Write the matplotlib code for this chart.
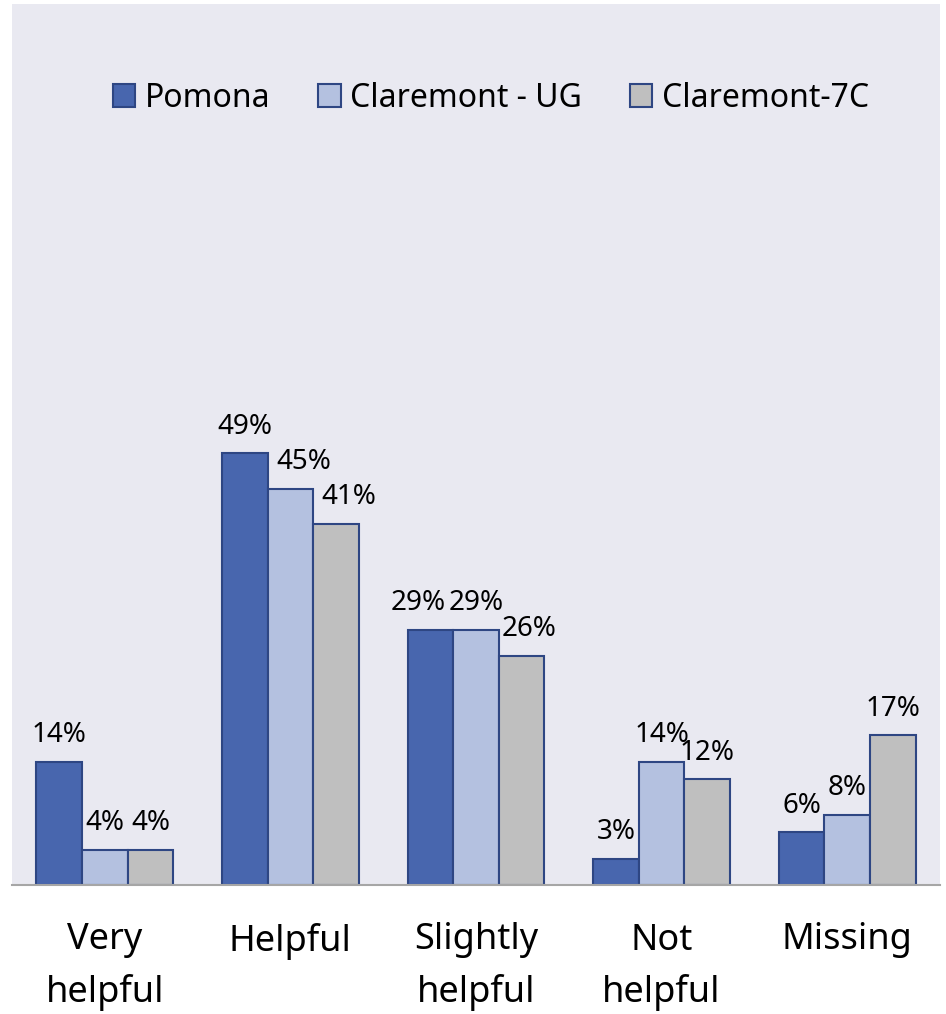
import matplotlib.pyplot as plt
import numpy as np

# Donnees (en %)
categories = ["Very\nhelpful", "Helpful", "Slightly\nhelpful", "Not\nhelpful", "Missing"]
series = ["Pomona", "Claremont - UG", "Claremont-7C"]
pomona = [14, 49, 29, 3, 6]
claremont_ug = [4, 45, 29, 14, 8]
claremont_7c = [4, 41, 26, 12, 17]

colors = ["#4866AE", "#B4C1E0", "#BFBFBF"]
edge = "#2E4683"
bg = "#E9E9F1"

# decalages horizontaux des etiquettes (points), comme Excel les a places
shift = {(1, 1): 10, (2, 1): 9, (0, 2): -9, (2, 2): 5}

plt.rcParams['font.family'] = ['Noto Sans', 'DejaVu Sans']

fig = plt.figure(figsize=(9.46, 10.14), dpi=100)
ax = fig.add_axes([12 / 946, 129 / 1014, 928 / 946, 881 / 1014])
ax.set_facecolor(bg)

x = np.arange(len(categories))
w = 0.246
for k, (vals, name) in enumerate(zip([pomona, claremont_ug, claremont_7c], series)):
    pos = x + (k - 1) * w
    ax.bar(pos, vals, w, color=colors[k], edgecolor=edge, linewidth=1.5, label=name)
    for i, (p, v) in enumerate(zip(pos, vals)):
        ax.annotate(f"{v}%", (p, v), xytext=(shift.get((k, i), 0), 9),
                    textcoords='offset points', ha='center', va='bottom', fontsize=20)

ax.set_xlim(-0.5, len(categories) - 0.5)
ax.set_ylim(0, 100)
ax.set_yticks([])
ax.set_xticks(x)
ax.set_xticklabels(categories, fontsize=26, linespacing=1.55)
ax.tick_params(axis='x', length=0, pad=27)
for s in ['top', 'left', 'right']:
    ax.spines[s].set_visible(False)
ax.spines['bottom'].set_color('#A6A6A6')
ax.spines['bottom'].set_linewidth(1.5)

ax.legend(loc='center', bbox_to_anchor=(0.516, 0.893), ncol=3, frameon=False,
          fontsize=23, handlelength=0.7, handleheight=0.7, handletextpad=0.3,
          columnspacing=1.5)

plt.savefig('out.png', dpi=100)
